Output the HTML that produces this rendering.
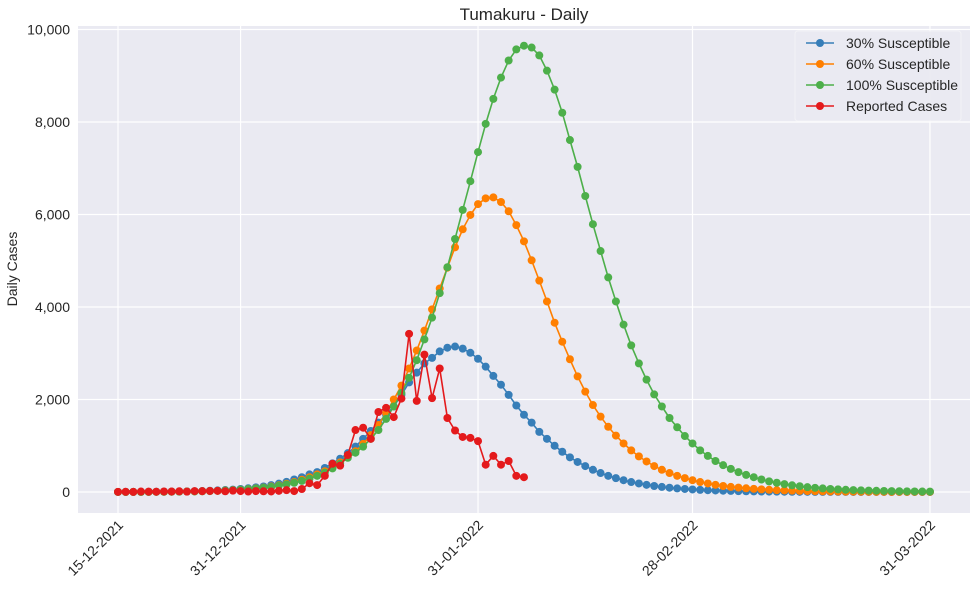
<!DOCTYPE html>
<html><head><meta charset="utf-8"><style>
body{margin:0;background:#fff;}
svg{display:block;font-family:"Liberation Sans",Arial,sans-serif;}
</style></head><body>
<svg id="chart" width="977" height="591">
<rect x="78" y="26" width="892" height="487" fill="#eaeaf2"/>
<g id="grid"></g>
<g id="series"></g>
<g id="axes"></g>
<text x="524" y="20" font-size="17" text-anchor="middle" fill="#262626">Tumakuru - Daily</text>
<text transform="translate(17,269) rotate(-90)" font-size="14" text-anchor="middle" fill="#262626">Daily Cases</text>
<g>
<rect x="795" y="31" width="166" height="90" rx="3" fill="#eaeaf2" stroke="#f4f4f8" opacity="0.9"/>
<g id="legend"></g>
</g>
</svg>
<script>
const dates=["15-12-2021","31-12-2021","31-01-2022","28-02-2022","31-03-2022"];
const dateTickDays=[0,16,47,75,106];
const yTicks=[0,2000,4000,6000,8000,10000];
const yTickLabels=["0","2,000","4,000","6,000","8,000","10,000"];
const seriesNames=["30% Susceptible","60% Susceptible","100% Susceptible","Reported Cases"];
const seriesColors=["#377eb8","#ff7f00","#4daf4a","#e41a1c"];
const s30=[1,2,2,3,4,5,6,8,10,13,17,21,27,34,42,52,65,80,100,120,150,180,220,270,320,380,430,520,620,720,840,980,1150,1320,1500,1670,1850,2100,2370,2580,2780,2900,3040,3120,3145,3100,3010,2880,2710,2510,2320,2100,1870,1670,1500,1300,1150,1000,870,750,650,560,480,410,350,300,255,215,185,155,130,110,93,78,66,55,46,39,33,28,23,19,16,13,11,9,8,6,5,4,4,3,3,2,2,2,1,1,1,1,1,1,1,1,1,1,1];
const s60=[1,1,2,2,3,4,5,6,8,10,13,16,20,25,32,40,50,62,78,95,118,145,178,215,265,320,380,450,540,640,760,880,1040,1230,1450,1710,2000,2300,2670,3060,3490,3950,4400,4850,5290,5680,5990,6225,6350,6370,6270,6070,5770,5420,5010,4570,4120,3660,3250,2870,2500,2170,1880,1630,1410,1220,1050,900,770,660,560,480,410,350,300,255,215,185,155,130,110,95,80,68,57,48,40,34,29,24,20,17,14,12,10,8,7,6,5,4,4,3,3,2,2,2,2];
const s100=[1,1,2,2,3,4,5,6,8,10,13,16,20,25,32,40,50,62,76,92,112,137,165,200,240,290,350,420,510,610,740,850,980,1150,1340,1580,1850,2140,2470,2850,3300,3770,4300,4860,5470,6100,6720,7350,7960,8500,8960,9330,9570,9650,9610,9440,9110,8700,8200,7610,7030,6400,5790,5210,4640,4120,3620,3170,2780,2430,2110,1850,1600,1400,1210,1050,900,780,670,580,500,430,370,320,270,230,200,170,145,125,105,90,78,66,57,48,41,35,30,26,22,19,16,14,12,10,9];
const reported=[4,5,3,10,8,6,12,10,15,8,20,18,22,25,15,30,20,10,20,15,12,25,40,20,65,190,150,350,610,570,800,1340,1390,1150,1730,1820,1620,2020,3420,1970,2970,2030,2670,1600,1330,1190,1170,1100,590,780,590,670,350,320];
const NS="http://www.w3.org/2000/svg";
const X0=118,DX=7.66,Y0=492,YS=462.5/10000;
const xs=d=>X0+d*DX, ys=v=>Y0-v*YS;
function mk(tag,attrs,parent){const e=document.createElementNS(NS,tag);for(const k in attrs)e.setAttribute(k,attrs[k]);parent.appendChild(e);return e;}
const grid=document.getElementById('grid'),axes=document.getElementById('axes'),ser=document.getElementById('series'),leg=document.getElementById('legend');
yTicks.forEach((t,i)=>{
 const l=mk('line',{x1:78,x2:970,y1:ys(t),y2:ys(t),stroke:'#fff','stroke-width':1.2},grid);
 
 
 const tx=mk('text',{x:70,y:ys(t)+5,'font-size':14,'text-anchor':'end',fill:'#262626'},axes);
 tx.textContent=yTickLabels[i];
 
 
});
dateTickDays.forEach((d,i)=>{
 const l=mk('line',{x1:xs(d),x2:xs(d),y1:26,y2:513,stroke:'#fff','stroke-width':1.2},grid);
 
 
 const tx=mk('text',{x:0,y:0,'font-size':14,'text-anchor':'end',fill:'#262626',transform:`translate(${xs(d)+6},${526}) rotate(-45)`},axes);
 tx.textContent=dates[i];
 
 
});
[s30,s60,s100,reported].forEach((arr,si)=>{
 const g=mk('g',{},ser);
 
 
 const pts=arr.map((v,d)=>xs(d).toFixed(1)+','+ys(v).toFixed(1)).join(' ');
 const pl=mk('polyline',{points:pts,fill:'none',stroke:seriesColors[si],'stroke-width':1.6},g);
 
 
 arr.forEach((v,d)=>{
  const c=mk('circle',{cx:xs(d),cy:ys(v),r:4,fill:seriesColors[si]},g);
  
  
 });
});
seriesNames.forEach((n,i)=>{
 const y=43+i*21;
 const g=mk('g',{},leg);
 
 
 mk('line',{x1:806,x2:834,y1:y,y2:y,stroke:seriesColors[i],'stroke-width':1.6},g);
 mk('circle',{cx:820,cy:y,r:4,fill:seriesColors[i]},g);
 const t=mk('text',{x:846,y:y+5,'font-size':14,fill:'#262626'},g);
 t.textContent=n;
});
</script>
</body></html>
